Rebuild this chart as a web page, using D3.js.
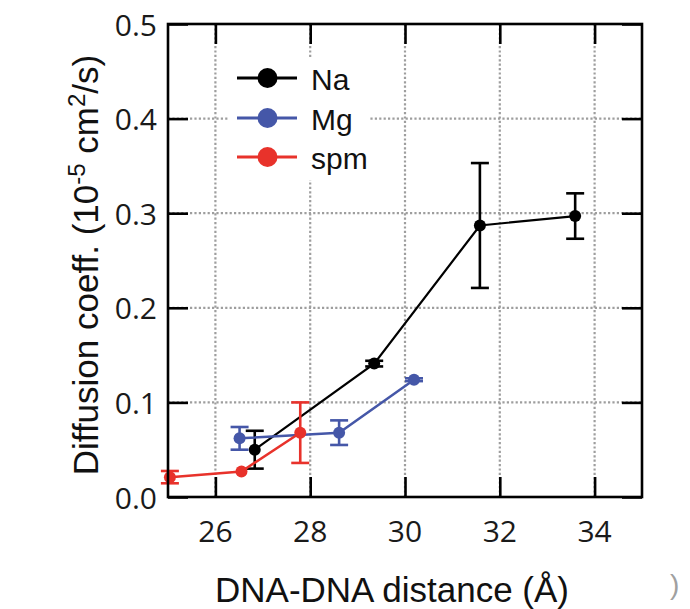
<!DOCTYPE html>
<html>
<head>
<meta charset="utf-8">
<script src="https://cdn.jsdelivr.net/npm/d3@7"></script>
<style>
  html, body { margin: 0; padding: 0; background: #fff; }
  svg { display: block; }
</style>
</head>
<body>
<svg id="chart" width="690" height="609"></svg>
<script>
// Diffusion coefficient vs DNA-DNA spacing for three counterions
const naX   = [26.83, 29.35, 31.58, 33.59];
const naY   = [0.050, 0.141, 0.287, 0.297];
const naErr = [0.020, 0.003, 0.066, 0.024];

const mgX   = [26.51, 28.61, 30.19];
const mgY   = [0.062, 0.068, 0.124];
const mgErr = [0.012, 0.013, 0.0015];

const spmX   = [25.04, 26.55, 27.79];
const spmY   = [0.021, 0.027, 0.068];
const spmErr = [0.0065, 0, 0.032];

const seriesNames = ["Na", "Mg", "spm"];
const xTicks = [26, 28, 30, 32, 34];
const yTicks = [0.0, 0.1, 0.2, 0.3, 0.4, 0.5];

const colors = { Na: "#000000", Mg: "#4557a8", spm: "#e8322b" };

const series = [
  { name: "Na",  xs: naX,  ys: naY,  es: naErr,  lw: 2.2 },
  { name: "Mg",  xs: mgX,  ys: mgY,  es: mgErr,  lw: 2.5 },
  { name: "spm", xs: spmX, ys: spmY, es: spmErr, lw: 2.5 }
].map(s => ({ ...s, pts: s.xs.map((x, i) => ({ x, y: s.ys[i], e: s.es[i] })) }));

const svg = d3.select("#chart");
const pLeft = 168, pRight = 642, pTop = 24, pBottom = 497;

const x = d3.scaleLinear().domain([25, 35]).range([pLeft, pRight]);
const y = d3.scaleLinear().domain([0, 0.5]).range([pBottom, pTop]);

// dotted grid
const grid = svg.append("g")
  .attr("stroke", "#9e9e9e").attr("stroke-width", 2.2).attr("stroke-dasharray", "2.2,2.2");
grid.selectAll(".gx").data(xTicks).join("line")
  .attr("x1", d => x(d)).attr("x2", d => x(d)).attr("y1", pTop).attr("y2", pBottom);
grid.selectAll(".gy").data(yTicks.filter(d => d > 0 && d < 0.5)).join("line")
  .attr("y1", d => y(d)).attr("y2", d => y(d)).attr("x1", pLeft).attr("x2", pRight);

// legend backdrop hides the grid behind the key
svg.append("rect").attr("x", 228).attr("y", 57).attr("width", 142).attr("height", 123).attr("fill", "#fff");

// inward ticks on all four sides via d3 axes
const tickLen = 20;
const axStyle = g => {
  g.select(".domain").remove();
  g.selectAll(".tick line").attr("stroke", "#000").attr("stroke-width", 2.6);
  g.selectAll(".tick text").remove();
};
svg.append("g").attr("transform", `translate(0,${pBottom})`)
  .call(d3.axisBottom(x).tickValues(xTicks).tickSize(-tickLen)).call(axStyle);
svg.append("g").attr("transform", `translate(0,${pTop})`)
  .call(d3.axisTop(x).tickValues(xTicks).tickSize(-tickLen)).call(axStyle);
svg.append("g").attr("transform", `translate(${pLeft},0)`)
  .call(d3.axisLeft(y).tickValues(yTicks).tickSize(-tickLen)).call(axStyle);
svg.append("g").attr("transform", `translate(${pRight},0)`)
  .call(d3.axisRight(y).tickValues(yTicks).tickSize(-tickLen)).call(axStyle);

// tick labels
const tickFont = "'Open Sans', 'Noto Sans', sans-serif";
svg.append("g").selectAll("text").data(xTicks).join("text")
  .attr("x", d => x(d)).attr("y", 530)
  .attr("text-anchor", "middle").attr("dominant-baseline", "central")
  .attr("font-family", tickFont).attr("font-size", 30).attr("fill", "#1a1a1a")
  .text(d => d);
svg.append("g").selectAll("text").data(yTicks).join("text")
  .attr("x", 157).attr("y", d => y(d))
  .attr("text-anchor", "end").attr("dominant-baseline", "central")
  .attr("font-family", tickFont).attr("font-size", 30).attr("fill", "#1a1a1a")
  .text(d => d3.format(".1f")(d));

// data: lines, error bars, markers
const line = d3.line().x(d => x(d.x)).y(d => y(d.y));
const cap = 9;
series.forEach(s => {
  const g = svg.append("g").attr("stroke", colors[s.name]).attr("fill", colors[s.name]);
  g.append("path").datum(s.pts).attr("d", line).attr("fill", "none").attr("stroke-width", s.lw);
  const eb = g.selectAll(".eb").data(s.pts.filter(p => p.e > 0)).join("g").attr("stroke-width", 2.6);
  eb.append("line").attr("x1", d => x(d.x)).attr("x2", d => x(d.x))
    .attr("y1", d => y(d.y - d.e)).attr("y2", d => y(d.y + d.e));
  eb.append("line").attr("x1", d => x(d.x) - cap).attr("x2", d => x(d.x) + cap)
    .attr("y1", d => y(d.y + d.e)).attr("y2", d => y(d.y + d.e));
  eb.append("line").attr("x1", d => x(d.x) - cap).attr("x2", d => x(d.x) + cap)
    .attr("y1", d => y(d.y - d.e)).attr("y2", d => y(d.y - d.e));
  g.selectAll("circle").data(s.pts).join("circle")
    .attr("cx", d => x(d.x)).attr("cy", d => y(d.y)).attr("r", 6).attr("stroke", "none");
});

// frame
svg.append("rect").attr("x", pLeft).attr("y", pTop).attr("width", pRight - pLeft).attr("height", pBottom - pTop)
  .attr("fill", "none").attr("stroke", "#000").attr("stroke-width", 2.6);

// legend
const legRows = [78, 118, 157];
const leg = svg.append("g");
seriesNames.forEach((n, i) => {
  const ly = legRows[i];
  leg.append("line").attr("x1", 237).attr("x2", 297).attr("y1", ly).attr("y2", ly)
    .attr("stroke", colors[n]).attr("stroke-width", 2.8);
  leg.append("circle").attr("cx", 267.5).attr("cy", ly).attr("r", 10).attr("fill", colors[n]);
  leg.append("text").attr("x", 311).attr("y", ly + 1).attr("dominant-baseline", "central")
    .attr("font-family", "'Liberation Sans', Arial, sans-serif").attr("font-size", 30).attr("fill", "#111")
    .text(n);
});

// axis titles
const titleFont = "'Liberation Sans', Arial, sans-serif";
svg.append("text").attr("x", 392).attr("y", 602).attr("text-anchor", "middle")
  .attr("font-family", titleFont).attr("font-size", 35).attr("fill", "#111")
  .text("DNA-DNA distance (Å)");

const yt = svg.append("text").attr("transform", "translate(98,265) rotate(-90)")
  .attr("text-anchor", "middle")
  .attr("font-family", titleFont).attr("font-size", 35).attr("fill", "#111");
yt.append("tspan").text("Diffusion coeff. (10");
yt.append("tspan").attr("font-size", 24).attr("dy", -13).text("-5");
yt.append("tspan").attr("dy", 13).text(" cm");
yt.append("tspan").attr("font-size", 24).attr("dy", -13).text("2");
yt.append("tspan").attr("dy", 13).text("/s)");

// stray glyph at the lower right edge
svg.append("text").attr("x", 670).attr("y", 594)
  .attr("font-family", titleFont).attr("font-size", 28).attr("fill", "#a0a0a0")
  .text(")");
</script>
</body>
</html>
